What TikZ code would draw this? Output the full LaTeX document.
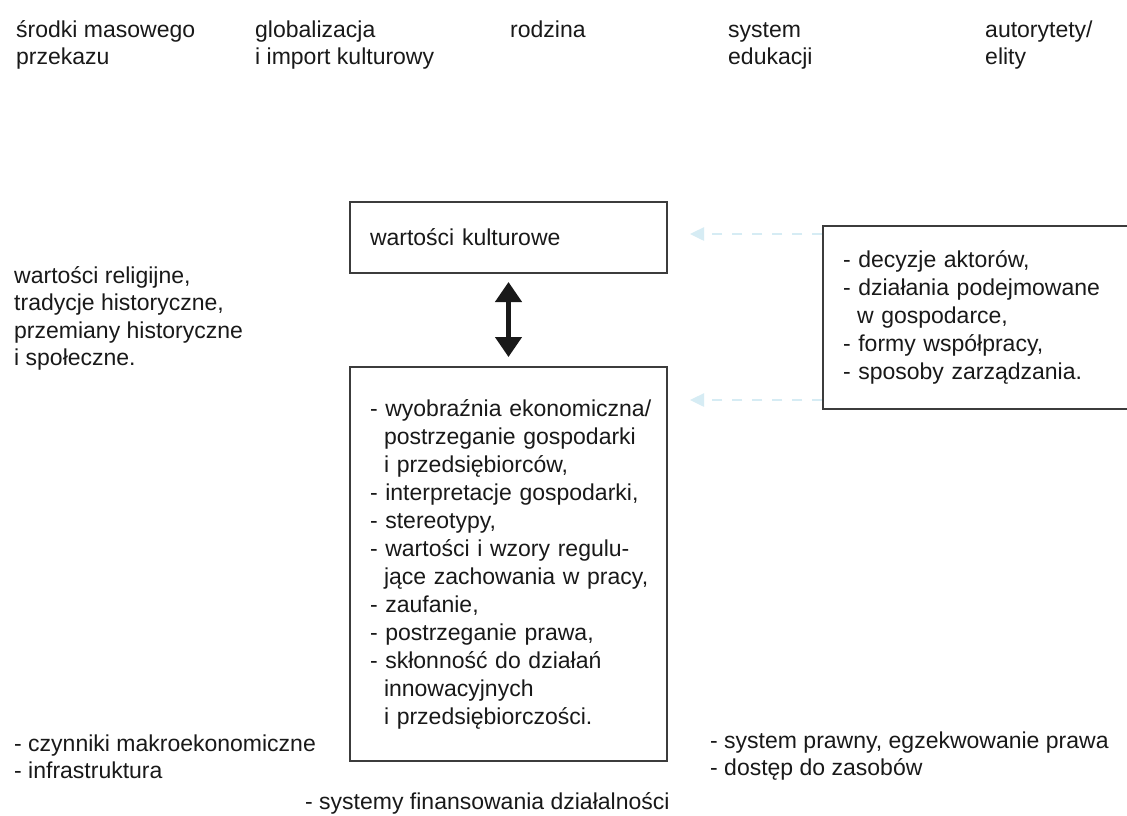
\documentclass[tikz,border=0pt]{standalone}
\usepackage{fontspec}
\setmainfont{Liberation Sans}
\usetikzlibrary{arrows.meta}
\definecolor{ink}{gray}{0.1}
\definecolor{faint}{RGB}{214,236,244}
\newcommand{\firstlinestrut}{\rule{0pt}{18pt}}
\newcommand{\hangin}{\hspace*{14pt}}
\begin{document}
\begin{tikzpicture}[x=1pt,y=-1pt,
  lbl/.style={inner sep=0pt, anchor=north west, align=left, text=ink,
    font=\fontsize{23}{27.5}\selectfont},
  boxtext/.style={draw=ink!85, line width=2pt, anchor=north west, align=left, text=ink,
    inner xsep=20pt, inner ysep=0pt, font=\fontsize{23}{28}\selectfont},
  bigarrow/.style={draw=ink, line width=4.5pt,
    {Triangle[width=26pt,length=20pt]}-{Triangle[width=26pt,length=20pt]}},
  faintarrow/.style={draw=faint, line width=2.5pt, dash pattern=on 10pt off 10pt,
    -{Triangle[width=13pt,length=14pt]}}
]
\useasboundingbox[fill=white] (0,0) rectangle (1127,815);

% top row of influences
\node[lbl] (media) at (16,19) {\firstlinestrut środki masowego\\przekazu};
\node[lbl] (glob) at (255,19) {\firstlinestrut globalizacja\\i import kulturowy};
\node[lbl] (fam) at (510,19) {\firstlinestrut rodzina};
\node[lbl] (edu) at (728,19) {\firstlinestrut system\\edukacji};
\node[lbl] (elite) at (985,19) {\firstlinestrut autorytety/\\elity};

% left influences
\node[lbl] (relig) at (14,265) {\firstlinestrut wartości religijne,\\tradycje historyczne,\\przemiany historyczne\\i społeczne.};

% central boxes
\node[boxtext, minimum width=317pt, minimum height=71pt, text width=277pt] (kv) at (349,201) {wartości kulturowe};
\node[boxtext, minimum width=317pt, minimum height=394pt, text width=277pt] (kb) at (349,366)
 {\mbox{- wyobraźnia ekonomiczna/}\\
  \mbox{\hangin postrzeganie gospodarki}\\
  \mbox{\hangin i przedsiębiorców,}\\
  \mbox{- interpretacje gospodarki,}\\
  \mbox{- stereotypy,}\\
  \mbox{- wartości i wzory regulu-}\\
  \mbox{\hangin jące zachowania w pracy,}\\
  \mbox{- zaufanie,}\\
  \mbox{- postrzeganie prawa,}\\
  \mbox{- skłonność do działań}\\
  \mbox{\hangin innowacyjnych}\\
  \mbox{\hangin i przedsiębiorczości.}};

% right box
\node[boxtext, minimum width=318pt, minimum height=183pt, text width=278pt] (rb) at (822,225)
 {\mbox{- decyzje aktorów,}\\
  \mbox{- działania podejmowane}\\
  \mbox{\hangin w gospodarce,}\\
  \mbox{- formy współpracy,}\\
  \mbox{- sposoby zarządzania.}};

% bottom influences
\node[lbl] (macro) at (14,733) {\firstlinestrut - czynniki makroekonomiczne\\- infrastruktura};
\node[lbl] (law) at (710,730) {\firstlinestrut - system prawny, egzekwowanie prawa\\- dostęp do zasobów};
\node[lbl] (fin) at (305,791) {\firstlinestrut - systemy finansowania działalności};

% connectors
\draw[bigarrow, shorten <=8pt, shorten >=9pt] (kv.south) -- (kb.north);
\coordinate (f1) at (690,234);
\coordinate (f2) at (690,400);
\draw[faintarrow] (rb.west |- f1) -- (f1);
\draw[faintarrow] (rb.west |- f2) -- (f2);
\end{tikzpicture}
\end{document}
